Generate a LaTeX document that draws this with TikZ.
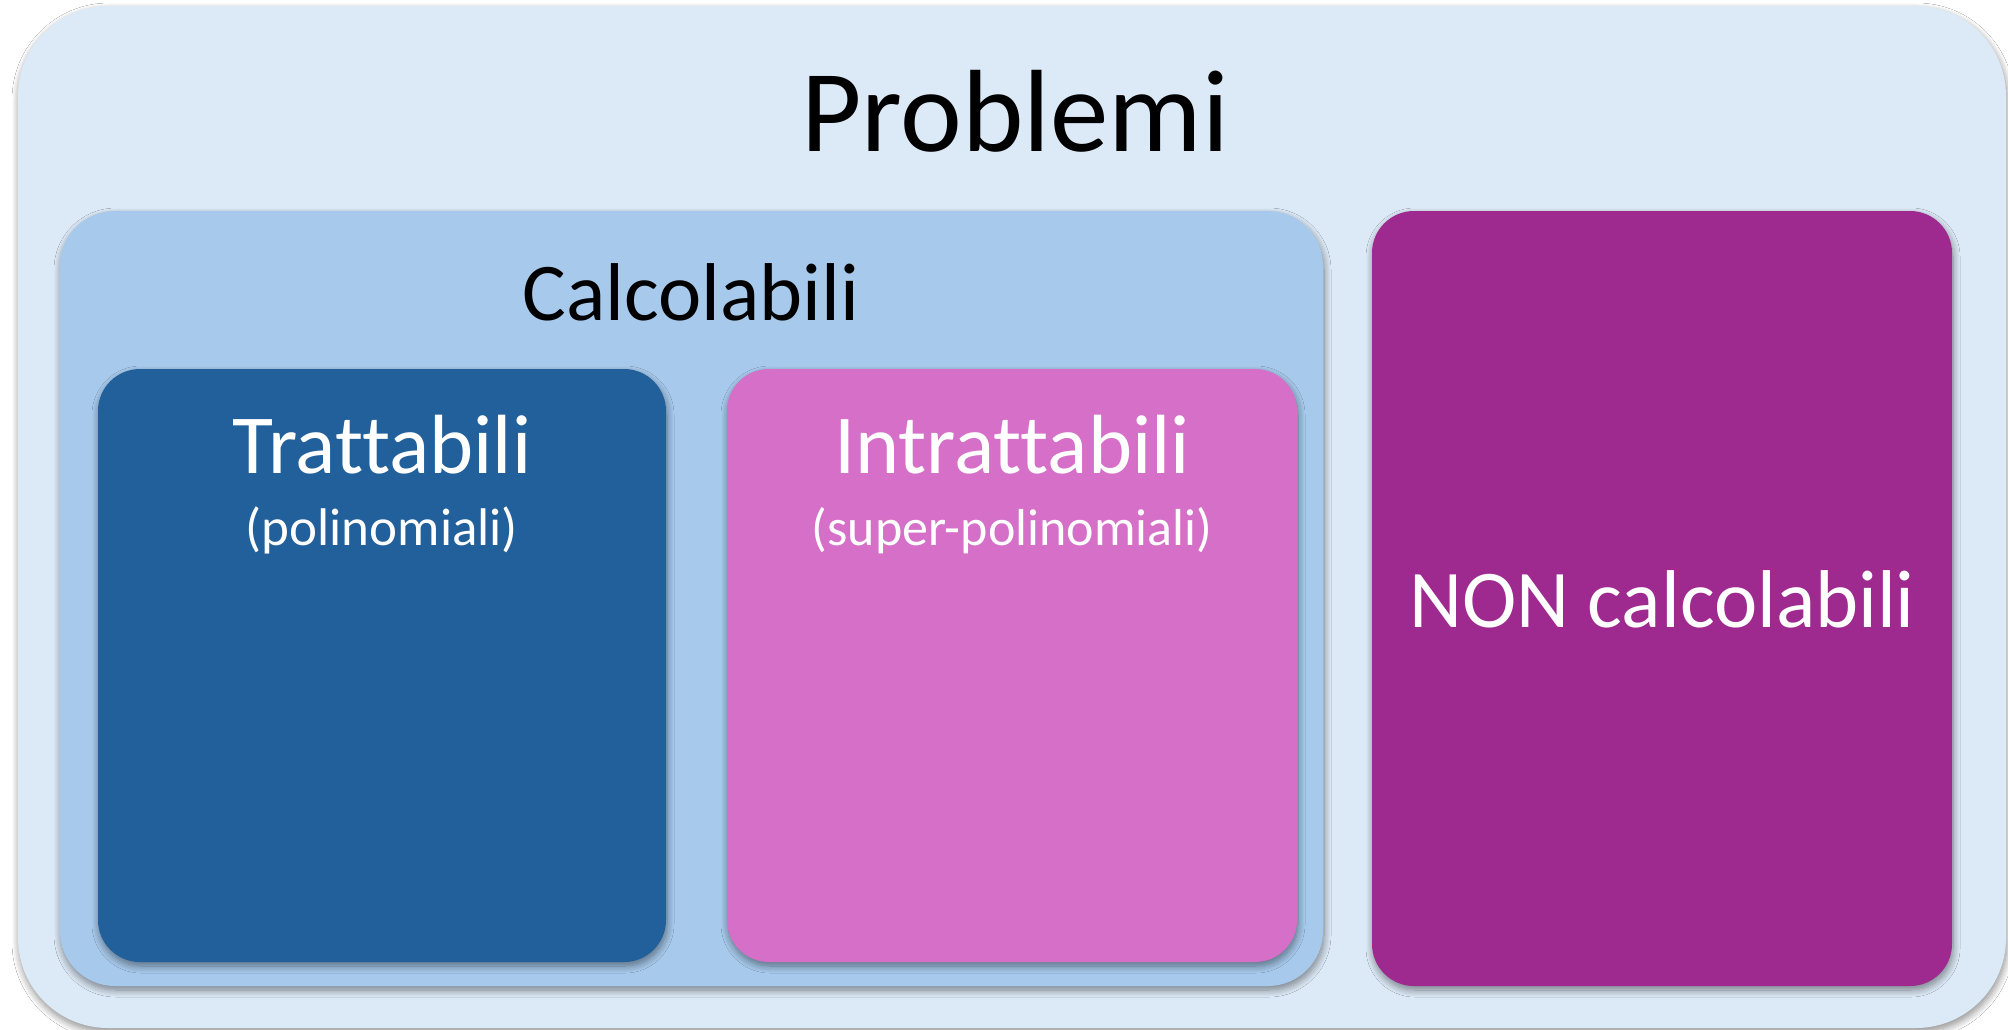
\documentclass[tikz,border=0pt]{standalone}
\usepackage{fontspec}
\setmainfont[Ligatures=CommonOff]{Carlito}
\usetikzlibrary{shadows.blur}
\definecolor{problemifill}{HTML}{DCE9F6}
\definecolor{calcfill}{HTML}{A7C9EB}
\definecolor{trattfill}{HTML}{21609B}
\definecolor{intrattfill}{HTML}{D56FC8}
\definecolor{noncalcfill}{HTML}{9E2A8F}
\tikzset{
  x=1pt, y=-1pt,
  panel/.style={draw=none, rectangle, inner sep=0pt, outer sep=0pt, anchor=north west,
    blur shadow={shadow xshift=1pt, shadow yshift=-4pt, shadow blur radius=7pt,
      shadow blur steps=10, shadow opacity=45}},
  darklabel/.style={text=black, inner sep=0pt, anchor=base},
  lightlabel/.style={text=white, inner sep=0pt, anchor=base},
}
\begin{document}
\begin{tikzpicture}
\useasboundingbox (0,0) rectangle (2008,1030);
\fill[white] (0,0) rectangle (2008,1030);
% outer set of all problems
\node[panel, fill=problemifill, rounded corners=90pt,
  minimum width=1988pt, minimum height=1022pt] (problemi) at (18,6) {};
% computable problems
\node[panel, fill=calcfill, rounded corners=55pt,
  minimum width=1263pt, minimum height=775pt] (calc) at (60,211) {};
% non-computable problems
\node[panel, fill=noncalcfill, rounded corners=42pt,
  minimum width=580pt, minimum height=775pt] (noncalc) at (1372,211) {};
% tractable / intractable
\node[panel, fill=trattfill, rounded corners=42pt,
  minimum width=568pt, minimum height=593pt] (tratt) at (98,369) {};
\node[panel, fill=intrattfill, rounded corners=42pt,
  minimum width=570pt, minimum height=593pt] (intratt) at (727,369) {};
% labels
\node[darklabel, font=\fontsize{117}{122}\selectfont] (tproblemi) at (1015,152) {Problemi};
\node[darklabel, font=\fontsize{82}{88}\selectfont] (tcalc) at (691,320) {Calcolabili};
\node[lightlabel, font=\fontsize{84}{90}\selectfont] (ttratt) at (382,473) {Trattabili};
\node[lightlabel, font=\fontsize{53}{58}\selectfont] (tpoli) at (382,545) {(polinomiali)};
\node[lightlabel, font=\fontsize{84}{90}\selectfont] (tintratt) at (1012,473) {Intrattabili};
\node[lightlabel, font=\fontsize{52}{58}\selectfont] (tsuper) at (1012,545) {(super-polinomiali)};
\node[lightlabel, font=\fontsize{82}{88}\selectfont] (tnoncalc) at (1662,627) {NON calcolabili};
\end{tikzpicture}
\end{document}
